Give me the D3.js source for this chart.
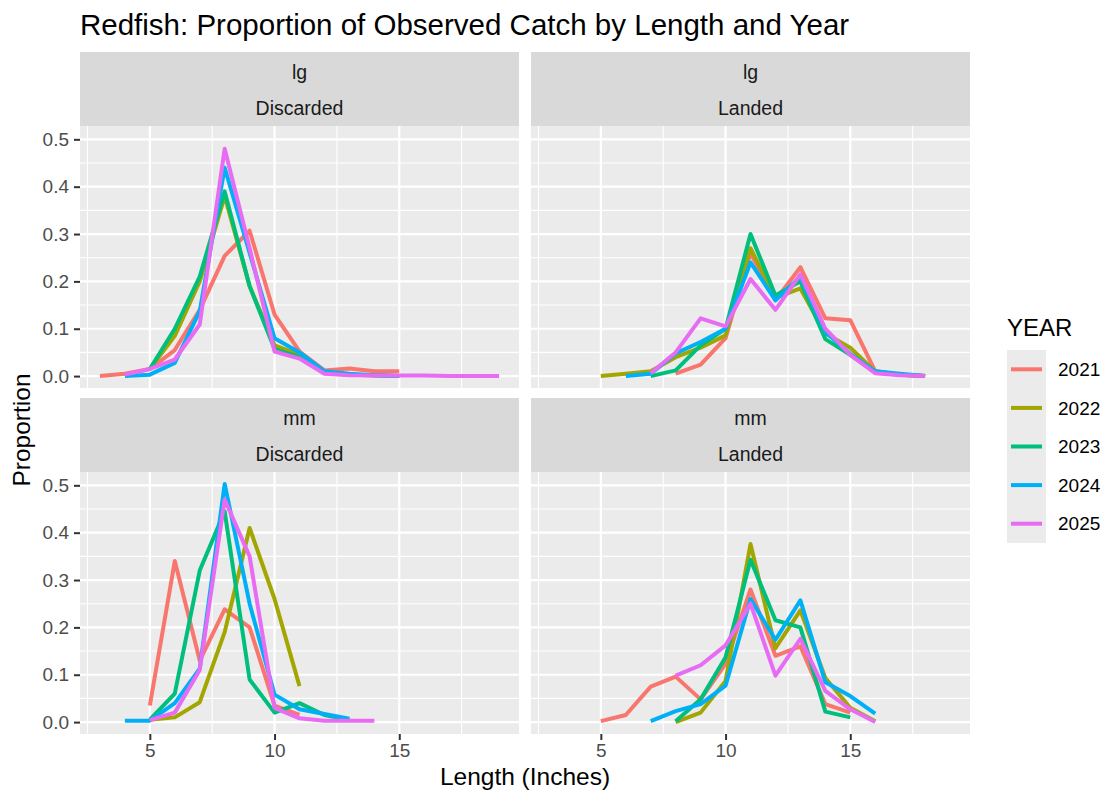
<!DOCTYPE html>
<html>
<head>
<meta charset="utf-8">
<script src="https://cdn.jsdelivr.net/npm/d3@7"></script>
<style>
  body { margin: 0; background: #fff; }
  svg text { font-family: "Liberation Sans", Arial, sans-serif; }
</style>
</head>
<body>
<svg id="chart" width="1105" height="793"></svg>
<script>
'use strict'

// years + ggplot hue palette
const years = ['2021', '2022', '2023', '2024', '2025']
const yearColors = ['#F8766D', '#A3A500', '#00BF7D', '#00B0F6', '#E76BF3']

const xTicks = [5, 10, 15]
const yTicks = [0, 0.1, 0.2, 0.3, 0.4, 0.5]

// [length, proportion] per year
const lgDiscarded = {
    '2021': [[3, 0], [4, 0.005], [5, 0.015], [6, 0.055], [7, 0.14], [8, 0.254], [9, 0.307], [10, 0.13], [11, 0.052], [12, 0.012], [13, 0.016], [14, 0.01], [15, 0.01]],
    '2022': [[5, 0.015], [6, 0.085], [7, 0.2], [8, 0.38], [9, 0.19], [10, 0.065], [11, 0.045], [12, 0.008], [13, 0.003], [14, 0.002], [15, 0]],
    '2023': [[5, 0.015], [6, 0.1], [7, 0.21], [8, 0.39], [9, 0.19], [10, 0.057], [11, 0.04], [12, 0.008], [13, 0.003], [14, 0.002], [15, 0]],
    '2024': [[4, 0], [5, 0.003], [6, 0.028], [7, 0.137], [8, 0.44], [9, 0.26], [10, 0.08], [11, 0.05], [12, 0.01], [13, 0.005], [14, 0.002], [15, 0]],
    '2025': [[4, 0.003], [5, 0.015], [6, 0.035], [7, 0.109], [8, 0.48], [9, 0.27], [10, 0.052], [11, 0.037], [12, 0.005], [13, 0.002], [14, 0.001], [15, 0.001], [16, 0.001], [17, 0], [18, 0], [19, 0]]
}

const lgLanded = {
    '2021': [[8, 0.005], [9, 0.024], [10, 0.08], [11, 0.26], [12, 0.16], [13, 0.23], [14, 0.122], [15, 0.118], [16, 0.01], [17, 0.003], [18, 0]],
    '2022': [[5, 0], [6, 0.005], [7, 0.01], [8, 0.04], [9, 0.06], [10, 0.086], [11, 0.27], [12, 0.165], [13, 0.185], [14, 0.09], [15, 0.06], [16, 0.01], [17, 0.003], [18, 0]],
    '2023': [[7, 0], [8, 0.012], [9, 0.065], [10, 0.1], [11, 0.3], [12, 0.17], [13, 0.2], [14, 0.078], [15, 0.045], [16, 0.008], [17, 0.003], [18, 0]],
    '2024': [[6, 0], [7, 0.005], [8, 0.048], [9, 0.072], [10, 0.1], [11, 0.24], [12, 0.16], [13, 0.21], [14, 0.093], [15, 0.047], [16, 0.01], [17, 0.005], [18, 0]],
    '2025': [[7, 0.006], [8, 0.05], [9, 0.122], [10, 0.105], [11, 0.205], [12, 0.14], [13, 0.215], [14, 0.1], [15, 0.045], [16, 0.006], [17, 0.002], [18, 0]]
}

const mmDiscarded = {
    '2021': [[5, 0.035], [6, 0.34], [7, 0.13], [8, 0.238], [9, 0.2], [10, 0.035], [11, 0.015]],
    '2022': [[5, 0.005], [6, 0.01], [7, 0.042], [8, 0.19], [9, 0.41], [10, 0.26], [11, 0.076]],
    '2023': [[5, 0.005], [6, 0.06], [7, 0.32], [8, 0.445], [9, 0.09], [10, 0.02], [11, 0.04], [12, 0.015], [13, 0.005]],
    '2024': [[4, 0.003], [5, 0.003], [6, 0.04], [7, 0.113], [8, 0.503], [9, 0.25], [10, 0.058], [11, 0.027], [12, 0.017], [13, 0.007]],
    '2025': [[5, 0.004], [6, 0.02], [7, 0.11], [8, 0.47], [9, 0.35], [10, 0.03], [11, 0.008], [12, 0.003], [13, 0.003], [14, 0.003]]
}

const mmLanded = {
    '2021': [[5, 0.002], [6, 0.015], [7, 0.075], [8, 0.096], [9, 0.048], [10, 0.123], [11, 0.28], [12, 0.14], [13, 0.16], [14, 0.038], [15, 0.02]],
    '2022': [[8, 0], [9, 0.02], [10, 0.087], [11, 0.376], [12, 0.156], [13, 0.236], [14, 0.093], [15, 0.03], [16, 0.002]],
    '2023': [[8, 0.002], [9, 0.048], [10, 0.137], [11, 0.343], [12, 0.215], [13, 0.2], [14, 0.022], [15, 0.01]],
    '2024': [[7, 0.002], [8, 0.023], [9, 0.038], [10, 0.077], [11, 0.26], [12, 0.174], [13, 0.257], [14, 0.084], [15, 0.055], [16, 0.018]],
    '2025': [[8, 0.098], [9, 0.12], [10, 0.162], [11, 0.25], [12, 0.098], [13, 0.176], [14, 0.066], [15, 0.027], [16, 0]]
}

const panels = [
    { size: 'lg', disp: 'Discarded', data: lgDiscarded, col: 0, row: 0 },
    { size: 'lg', disp: 'Landed', data: lgLanded, col: 1, row: 0 },
    { size: 'mm', disp: 'Discarded', data: mmDiscarded, col: 0, row: 1 },
    { size: 'mm', disp: 'Landed', data: mmLanded, col: 1, row: 1 }
]

const svg = d3.select('#chart')

const panelX = [80, 531], panelW = 439
const stripY = [52, 398], stripH = 74, panelH = 262

// shared scales with ggplot's 5% expansion
let allPts = panels.flatMap(p => years.flatMap(y => p.data[y]))
let xExt = d3.extent(allPts, d => d[0]), yExt = [0, d3.max(allPts, d => d[1])]
let xPad = (xExt[1] - xExt[0]) * 0.05, yPad = (yExt[1] - yExt[0]) * 0.05

let x = d3.scaleLinear().domain([xExt[0] - xPad, xExt[1] + xPad]).range([0, panelW])
let y = d3.scaleLinear().domain([yExt[0] - yPad, yExt[1] + yPad]).range([panelH, 0])

let xMinor = [2.5, 7.5, 12.5, 17.5]
let yMinor = [0.05, 0.15, 0.25, 0.35, 0.45]

let line = d3.line().x(d => x(d[0])).y(d => y(d[1]))

panels.forEach(p => {
    let px = panelX[p.col], sy = stripY[p.row]

    let strip = svg.append('g').attr('transform', `translate(${px}, ${sy})`)
    strip.append('rect').attr('width', panelW).attr('height', stripH).attr('fill', '#D9D9D9')
    strip.append('text').attr('x', panelW / 2).attr('y', 20).attr('dy', '0.35em')
        .attr('text-anchor', 'middle').attr('font-size', 19.5).attr('fill', '#1A1A1A').text(p.size)
    strip.append('text').attr('x', panelW / 2).attr('y', 56).attr('dy', '0.35em')
        .attr('text-anchor', 'middle').attr('font-size', 19.5).attr('fill', '#1A1A1A').text(p.disp)

    let g = svg.append('g').attr('transform', `translate(${px}, ${sy + stripH})`)
    g.append('rect').attr('width', panelW).attr('height', panelH).attr('fill', '#EBEBEB')

    g.selectAll('.xminor').data(xMinor).enter().append('line')
        .attr('x1', d => x(d)).attr('x2', d => x(d)).attr('y1', 0).attr('y2', panelH)
        .attr('stroke', '#fff').attr('stroke-width', 1.1)
    g.selectAll('.yminor').data(yMinor).enter().append('line')
        .attr('y1', d => y(d)).attr('y2', d => y(d)).attr('x1', 0).attr('x2', panelW)
        .attr('stroke', '#fff').attr('stroke-width', 1.1)
    g.selectAll('.xmajor').data(xTicks).enter().append('line')
        .attr('x1', d => x(d)).attr('x2', d => x(d)).attr('y1', 0).attr('y2', panelH)
        .attr('stroke', '#fff').attr('stroke-width', 2.2)
    g.selectAll('.ymajor').data(yTicks).enter().append('line')
        .attr('y1', d => y(d)).attr('y2', d => y(d)).attr('x1', 0).attr('x2', panelW)
        .attr('stroke', '#fff').attr('stroke-width', 2.2)

    years.forEach((yr, i) => {
        g.append('path').datum(p.data[yr]).attr('d', line)
            .attr('fill', 'none').attr('stroke', yearColors[i])
            .attr('stroke-width', 4).attr('stroke-linejoin', 'round')
    })

    if (p.col === 0) {
        let ax = g.append('g').call(d3.axisLeft(y).tickValues(yTicks).tickFormat(d3.format('.1f')).tickSize(6).tickPadding(5))
        ax.select('.domain').remove()
        ax.selectAll('line').attr('stroke', '#333').attr('stroke-width', 2)
        ax.selectAll('text').attr('font-size', 19).attr('fill', '#4D4D4D').attr('font-family', '"Liberation Sans", Arial, sans-serif')
    }
    if (p.row === 1) {
        let ax = g.append('g').attr('transform', `translate(0, ${panelH})`)
            .call(d3.axisBottom(x).tickValues(xTicks).tickSize(6).tickPadding(4))
        ax.select('.domain').remove()
        ax.selectAll('line').attr('stroke', '#333').attr('stroke-width', 2)
        ax.selectAll('text').attr('font-size', 19).attr('fill', '#4D4D4D').attr('font-family', '"Liberation Sans", Arial, sans-serif')
    }
})

// titles
svg.append('text').attr('x', 80).attr('y', 35).attr('font-size', 29.5).attr('fill', '#000')
    .text('Redfish: Proportion of Observed Catch by Length and Year')

svg.append('text').attr('x', (panelX[0] + panelX[1] + panelW) / 2).attr('y', 785)
    .attr('text-anchor', 'middle').attr('font-size', 24.5).attr('fill', '#000').text('Length (Inches)')

svg.append('text').attr('transform', 'translate(30, 430) rotate(-90)')
    .attr('text-anchor', 'middle').attr('font-size', 24.5).attr('fill', '#000').text('Proportion')

// legend
let legend = svg.append('g').attr('transform', 'translate(1007, 0)')
legend.append('text').attr('x', 0).attr('y', 336).attr('font-size', 24).attr('fill', '#000').text('YEAR')
legend.append('rect').attr('y', 350).attr('width', 39).attr('height', 193).attr('fill', '#EBEBEB')

let keys = legend.selectAll('.key').data(years).enter().append('g')
    .attr('transform', (d, i) => `translate(0, ${350 + 19.3 + i * 38.6})`)
keys.append('line').attr('x1', 4).attr('x2', 35)
    .attr('stroke', (d, i) => yearColors[i]).attr('stroke-width', 4)
keys.append('text').attr('x', 51).attr('dy', '0.35em').attr('font-size', 19).attr('fill', '#000').text(d => d)
</script>
</body>
</html>
